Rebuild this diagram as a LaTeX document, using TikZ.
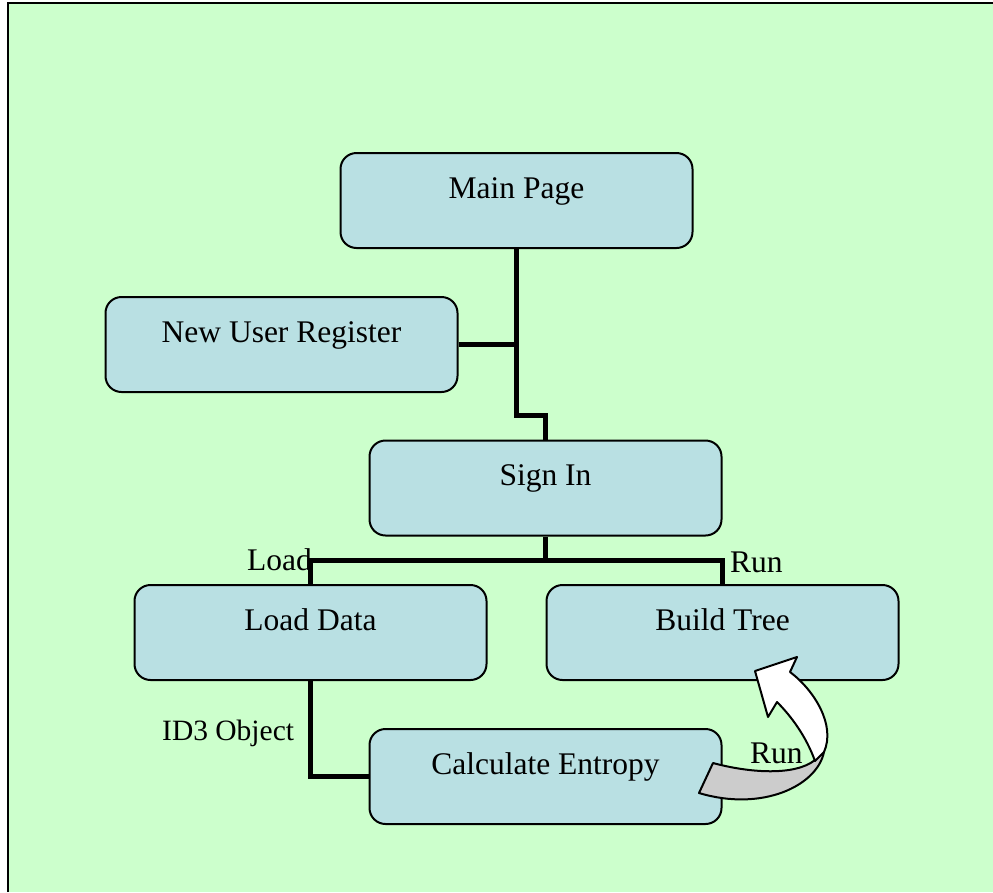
\documentclass[tikz,border=0pt]{standalone}
\usepackage{fontspec}
\setmainfont{Liberation Serif}
\usetikzlibrary{calc}
\definecolor{bggreen}{RGB}{204,255,204}
\definecolor{boxblue}{RGB}{185,224,227}
\definecolor{bandgray}{RGB}{204,204,204}
\begin{document}
\begin{tikzpicture}[x=1pt,y=-1pt,
  box/.style={draw=black, line width=2pt, fill=boxblue, rounded corners=16pt,
    minimum width=352pt, minimum height=95pt, inner sep=0pt,
    text height=45pt, text depth=50pt, align=center,
    font=\fontsize{31.5}{36}\selectfont},
  lbl/.style={inner sep=0pt, anchor=base west, font=\fontsize{31.5}{36}\selectfont},
  conn/.style={draw=black, line width=5.5pt, line join=miter, line cap=butt},
  arrowline/.style={draw=black, line width=2pt, line join=round}]
\useasboundingbox (0,0) rectangle (993,892);
\fill[white] (0,0) rectangle (993,892);
\fill[bggreen] (8,3) rectangle (993,892);
\draw[line width=2pt] (8,892) -- (8,3) -- (993,3);

% labels under connectors
\node[lbl] (loadlbl) at (247,570) {Load};
\node[lbl] (runlbl) at (730,572) {Run};
\node[lbl, font=\fontsize{29.5}{34}\selectfont] (idlbl) at (162,740) {ID3 Object};

% boxes
\node[box] (mp)  at (516.5,200.5) {Main Page};
\node[box] (nur) at (281.5,344.5) {New User Register};
\node[box] (si)  at (545.5,488)   {Sign In};
\node[box] (ld)  at (310.5,632.5) {Load Data};
\node[box] (bt)  at (722.5,632.5) {Build Tree};
\node[box] (ce)  at (545.5,776.5) {Calculate Entropy};

% connectors
\draw[conn] (mp.south) |- ($(si.north)+(0,-24)$) -- (si.north);
\draw[conn] (nur.east) -- (mp.south |- nur.east);
\coordinate (j) at ($(si.south)+(0,24)$);
\draw[conn] (si.south) -- (j);
\draw[conn] (ld.north) |- (j) -| (bt.north);
\draw[conn] (ld.south) |- (ce.west);

% curved block arrow
\filldraw[arrowline, fill=bandgray]
  (713,763) .. controls (750,773) and (795,776) .. (815,760)
  -- (824,752) .. controls (817,786) and (762,812) .. (699,793) -- cycle;
\filldraw[arrowline, fill=white]
  (815,761) .. controls (806,736) and (791,716) .. (777,702)
  -- (768,717) -- (755,671) -- (797,657) -- (790,672)
  .. controls (814,690) and (836,725) .. (824,752) -- cycle;

\node[lbl] (runlbl2) at (750,763) {Run};
\end{tikzpicture}
\end{document}
